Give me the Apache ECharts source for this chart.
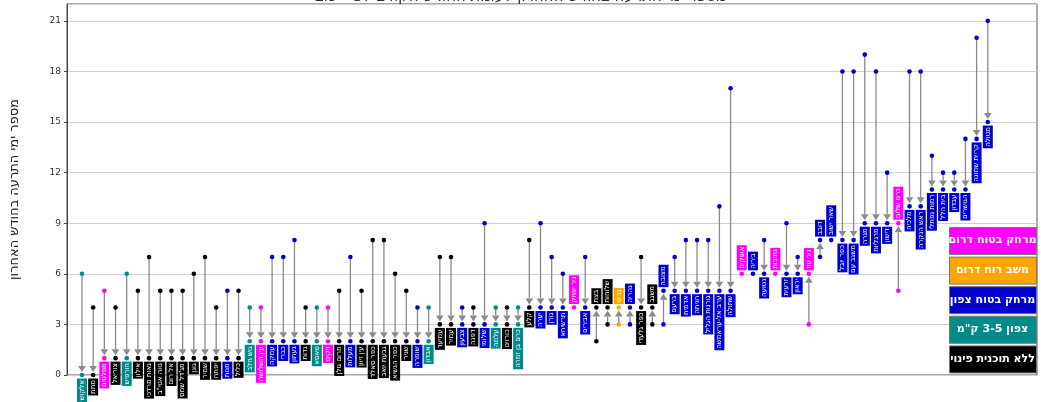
<!DOCTYPE html>
<html><head><meta charset="utf-8">
<script src="https://cdn.jsdelivr.net/npm/echarts@6/dist/echarts.min.js"></script>
<style>html,body{margin:0;padding:0;background:#fff}#c{width:1041px;height:402px}</style>
</head><body><div id="c"></div>
<script>
// ---- data ----
const names = ['אלקוש','מתת','מפלסים','צוריאל','חורפיש','אילון','נאות מרדכי','נווה אטי"ב','אל רום','מג\'דל שמס','גונן','שמיר','יפתח','מנות','כליל',
 'גוש חלב','עין השלושה','עמקה','כברי','געתון','גדות','סאסא','זיקים','מרום גולן','מעלות','עין זיוון','כפר סאלד','גבעת יואב','כפר הנשיא','שניר','שומרה','אבדון',
 'עמיעד','עמיר','צבעון','דפנה','שלומי','עלמה','כורזים','כרם בן זמרה',
 'קלע','יערה','גורן','תרשיחא','ניר יצחק','אבירים','בצת','שלוחות','גבים','נהריה','כפר גלעדי','משגב',
 'מצובה','ברעם','אדמית','חניתה','גורנות הגליל','ערב אל-עראמשה','שתולה',
 'אופקים','ביריה','נטועה','נתיבות','זרעית','יראון','ניר עוז',
 'דובב','שאר ישוב','כפר יובל','משגב עם','מנרה','מרגליות','דישון','כרם שלום',
 'מלכיה','ראש הנקרה','רמות נפתלי','בית הלל','עבדון','הגושרים','קריית שמונה','מטולה'];
const prevDays = [6,4,5,4,6,5,7,5,5,5,6,7,4,5,5,
 4,4,7,7,8,4,4,4,5,7,5,8,8,6,5,4,4,
 7,7,4,4,9,4,4,4,
 8,9,7,6,4,7,2,3,3,3,7,3,
 3,7,8,8,8,10,17,
 6,6,8,6,9,7,3,
 7,8,18,18,19,18,12,5,
 18,18,13,12,12,14,20,21];
const currDays = [0,0,1,1,1,1,1,1,1,1,1,1,1,1,1,
 2,2,2,2,2,2,2,2,2,2,2,2,2,2,2,2,2,
 3,3,3,3,3,3,3,3,
 4,4,4,4,4,4,4,4,4,4,4,4,
 5,5,5,5,5,5,5,
 6,6,6,6,6,6,6,
 8,8,8,8,9,9,9,9,
 10,10,11,11,11,11,14,15];
// group index: 0 south safe, 1 south wind, 2 north safe, 3 north 3-5km, 4 no plan
const groups = [3,4,0,4,3,4,4,4,4,4,4,4,4,2,4,
 3,0,2,2,2,4,3,0,4,2,4,4,4,4,4,2,3,
 4,4,2,4,2,3,4,3,
 4,2,2,2,0,2,4,4,1,2,4,4,
 2,2,2,2,2,2,2,
 0,2,2,0,2,2,0,
 2,2,2,2,2,2,2,0,
 2,2,2,2,2,2,2,2];
const groupNames = ['מרחק בטוח דרום','משב רוח דרום','מרחק בטוח צפון','צפון 3-5 ק"מ','ללא תוכנית פינוי'];
const groupColors = ['#ff00ff','#ffa500','#0000cd','#008b8b','#000000'];
const yTitle = 'מספר ימי התרעה בחודש האחרון';
const chartTitle = 'מספר ימי התרעה בחודש האחרון לעומת החודש הקודם לפי יישוב';

const rows = names.map((n,i)=>[i, prevDays[i], currDays[i], groups[i]]);
const FONT = '"DejaVu Sans", "Liberation Sans", sans-serif';
const ARROW = '#8a8a8a';

function renderItem(params, api){
  const i = api.value(0), p = api.value(1), c = api.value(2), g = api.value(3);
  const P = api.coord([i,p]), C = api.coord([i,c]);
  const col = groupColors[g];
  const x = C[0];
  const ch = [];
  if (c < p) {
    const tip = C[1]-3, base = tip-6;
    ch.push({type:'line', shape:{x1:x,y1:P[1],x2:x,y2:base}, style:{stroke:ARROW,lineWidth:1.3}});
    ch.push({type:'polygon', shape:{points:[[x-3.8,base],[x+3.8,base],[x,tip]]}, style:{fill:ARROW}});
  } else if (c > p) {
    const tip = C[1]+3, base = tip+6;
    ch.push({type:'line', shape:{x1:x,y1:P[1],x2:x,y2:base}, style:{stroke:ARROW,lineWidth:1.3}});
    ch.push({type:'polygon', shape:{points:[[x-3.8,base],[x+3.8,base],[x,tip]]}, style:{fill:ARROW}});
  }
  ch.push({type:'circle', shape:{cx:P[0],cy:P[1],r:2.3}, style:{fill:col}});
  if (c !== p) ch.push({type:'circle', shape:{cx:C[0],cy:C[1],r:2.3}, style:{fill:col}});
  const down = c < p;
  ch.push({type:'text', x:x, y: down ? C[1]+3.5 : C[1]-3.5, rotation: Math.PI/2,
    style:{text: names[i], fill:'#fff', backgroundColor: col, padding:[1.5,1.5,1.5,1.5],
      font: '7px ' + FONT, align: down ? 'right' : 'left', verticalAlign:'middle'}});
  return {type:'group', children: ch};
}

const legendTop = 227, legendStep = 29.6;
const graphics = [];
groupNames.forEach((n,k)=>{
  graphics.push({type:'rect', left:949, top: legendTop + k*legendStep, z:100,
    shape:{width:87,height:27}, style:{fill:groupColors[k], stroke:'#777', lineWidth:1}});
  graphics.push({type:'text', x: 992.5, y: legendTop + k*legendStep + 13.5, z:101,
    style:{text:n, fill:'#fff', font:'bold 11px ' + FONT, align:'center', verticalAlign:'middle'}});
});

const chart = echarts.init(document.getElementById('c'), null, {renderer:'canvas'});
chart.setOption({
  animation:false,
  title:{text: chartTitle, left:'center', top:-15, textStyle:{fontSize:15, fontWeight:'normal', color:'#333', fontFamily:FONT}},
  grid:{left:66, right:4, top:4, bottom:27, show:true, borderColor:'#555', borderWidth:1, backgroundColor:'transparent'},
  xAxis:{type:'value', min:-1.34, max:85.4, show:false},
  yAxis:{type:'value', min:0, max:22, interval:3,
    name: yTitle, nameLocation:'middle', nameGap:46, nameRotate:90,
    nameTextStyle:{fontSize:13, color:'#222', fontFamily:FONT},
    axisLine:{show:true, onZero:false, lineStyle:{color:'#444'}},
    axisTick:{show:true, length:3, lineStyle:{color:'#444'}},
    axisLabel:{fontSize:9, color:'#333', fontFamily:FONT, showMaxLabel:false, margin:6},
    splitLine:{show:true, lineStyle:{color:'#d0d0d0', width:1}}},
  series:[{type:'custom', renderItem, data: rows, clip:false,
    encode:{x:0, y:[1,2]}}],
  graphic: graphics
});
</script></body></html>
